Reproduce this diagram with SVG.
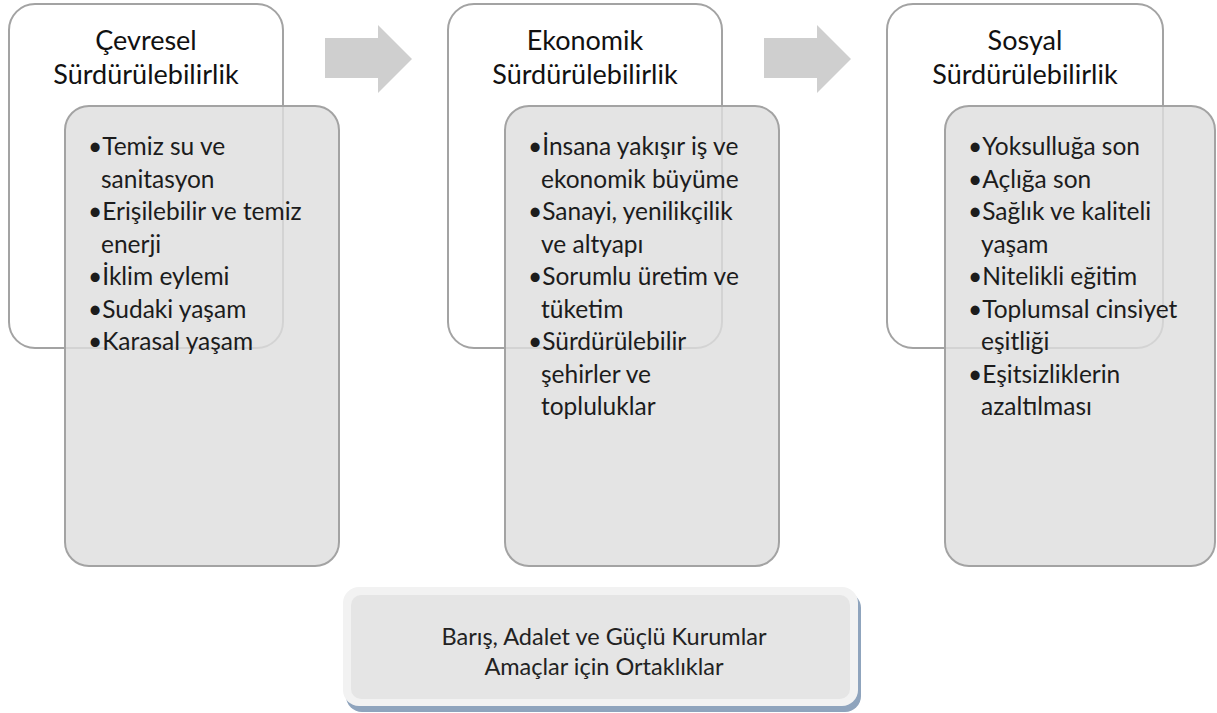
<svg xmlns="http://www.w3.org/2000/svg" width="1217" height="713" viewBox="0 0 1217 713">
<style>
.outer{fill:#ffffff;stroke:#a3a3a3;stroke-width:2}
.inner{fill:#dedede;fill-opacity:0.82;stroke:#a3a3a3;stroke-width:2}
.title{font-family:Lato,"Liberation Sans",sans-serif;font-size:27px;fill:#111;text-anchor:middle}
.item{font-family:Lato,"Liberation Sans",sans-serif;font-size:24.5px;fill:#1c1c1c}
.arrow{fill:#cfcfcf}
.bottom{font-family:Lato,"Liberation Sans",sans-serif;font-size:23.5px;fill:#222;text-anchor:middle}
</style>
<rect width="1217" height="713" fill="#ffffff"/>

<g id="connectors">
<polygon class="arrow" points="325,38 378,38 378,25 412,59 378,93 378,78 325,78"/>
<polygon class="arrow" points="764,38 817,38 817,25 851,59 817,93 817,78 764,78"/>
</g>

<g id="cevresel">
<rect class="outer" x="9" y="4" width="274" height="344" rx="26"/>
<text class="title" x="146" y="50">Çevresel</text>
<text class="title" x="146" y="84">Sürdürülebilirlik</text>
</g>
<g id="cevresel-items">
<rect class="inner" x="65" y="106" width="274" height="460" rx="24"/>
<text class="item" x="88" y="155">•Temiz su ve</text>
<text class="item" x="101" y="187.5">sanitasyon</text>
<text class="item" x="88" y="220">•Erişilebilir ve temiz</text>
<text class="item" x="101" y="252.5">enerji</text>
<text class="item" x="88" y="285">•İklim eylemi</text>
<text class="item" x="88" y="317.5">•Sudaki yaşam</text>
<text class="item" x="88" y="350">•Karasal yaşam</text>
</g>

<g id="ekonomik">
<rect class="outer" x="448" y="4" width="274" height="344" rx="26"/>
<text class="title" x="585" y="50">Ekonomik</text>
<text class="title" x="585" y="84">Sürdürülebilirlik</text>
</g>
<g id="ekonomik-items">
<rect class="inner" x="505" y="106" width="274" height="460" rx="24"/>
<text class="item" x="528" y="155">•İnsana yakışır iş ve</text>
<text class="item" x="541" y="187.5">ekonomik büyüme</text>
<text class="item" x="528" y="220">•Sanayi, yenilikçilik</text>
<text class="item" x="541" y="252.5">ve altyapı</text>
<text class="item" x="528" y="285">•Sorumlu üretim ve</text>
<text class="item" x="541" y="317.5">tüketim</text>
<text class="item" x="528" y="350">•Sürdürülebilir</text>
<text class="item" x="541" y="382.5">şehirler ve</text>
<text class="item" x="541" y="415">topluluklar</text>
</g>

<g id="sosyal">
<rect class="outer" x="887" y="4" width="276" height="344" rx="26"/>
<text class="title" x="1025" y="50">Sosyal</text>
<text class="title" x="1025" y="84">Sürdürülebilirlik</text>
</g>
<g id="sosyal-items">
<rect class="inner" x="945" y="106" width="270" height="460" rx="24"/>
<text class="item" x="968" y="155">•Yoksulluğa son</text>
<text class="item" x="968" y="187.5">•Açlığa son</text>
<text class="item" x="968" y="220">•Sağlık ve kaliteli</text>
<text class="item" x="981" y="252.5">yaşam</text>
<text class="item" x="968" y="285">•Nitelikli eğitim</text>
<text class="item" x="968" y="317.5">•Toplumsal cinsiyet</text>
<text class="item" x="981" y="350">eşitliği</text>
<text class="item" x="968" y="382.5">•Eşitsizliklerin</text>
<text class="item" x="981" y="415">azaltılması</text>
</g>

<g id="ortak">
<rect x="346" y="592" width="515" height="120" rx="16" fill="#8fa4bd"/>
<rect x="343" y="587" width="515" height="119" rx="16" fill="#f2f2f2"/>
<rect x="351" y="595" width="499" height="104" rx="10" fill="#e5e5e5"/>
<text class="bottom" x="604" y="645">Barış, Adalet ve Güçlü Kurumlar</text>
<text class="bottom" x="604" y="675">Amaçlar için Ortaklıklar</text>
</g>
</svg>
